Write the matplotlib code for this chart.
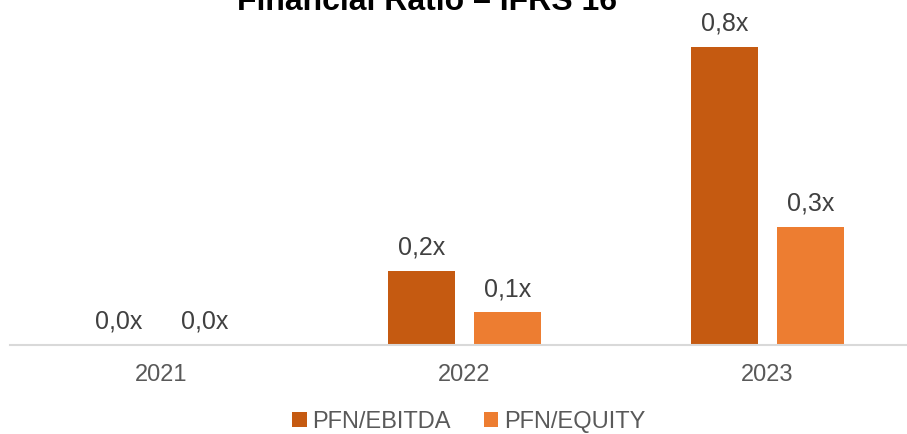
import numpy as np
import matplotlib.pyplot as plt

years = ["2021", "2022", "2023"]
pfn_ebitda = [0.0, 0.2, 0.8]
pfn_equity = [0.0, 0.088, 0.317]
ebitda_labels = ["0,0x", "0,2x", "0,8x"]
equity_labels = ["0,0x", "0,1x", "0,3x"]

plt.rcParams['font.family'] = ['Liberation Sans', 'DejaVu Sans']

fig = plt.figure(figsize=(9.07, 4.34), dpi=100)
ax = fig.add_axes([10 / 907, 89 / 434, 909 / 907, 298 / 434])

x = np.arange(len(years))
w = 0.22
off = 0.142
b1 = ax.bar(x - off, pfn_ebitda, w, color='#C55A11', label='PFN/EBITDA')
b2 = ax.bar(x + off, pfn_equity, w, color='#ED7D31', label='PFN/EQUITY')

# data labels above each bar
for bars, labels in [(b1, ebitda_labels), (b2, equity_labels)]:
    for bar, lab in zip(bars, labels):
        ax.annotate(lab, (bar.get_x() + bar.get_width() / 2, bar.get_height()),
                    xytext=(0, 8), textcoords='offset points', ha='center', va='bottom',
                    fontsize=18, color='#404040', annotation_clip=False)

ax.set_xlim(-0.5, 2.5)
ax.set_ylim(0, 0.8)
ax.set_xticks(x)
ax.set_xticklabels(years, fontsize=17, color='#595959')
ax.tick_params(axis='x', length=0, pad=14)
ax.set_yticks([])
for s in ['top', 'right', 'left']:
    ax.spines[s].set_visible(False)
ax.spines['bottom'].set_color('#D9D9D9')
ax.spines['bottom'].set_linewidth(1.5)

fig.text(427 / 907, 1 - 10 / 434, "Financial Ratio – IFRS 16", ha='center', va='baseline',
         fontsize=23, fontweight='bold', color='black')

fig.legend(handles=[b1, b2], loc='center', bbox_to_anchor=(469 / 907, 12 / 434), ncol=2,
           frameon=False, fontsize=17, labelcolor='#595959', handlelength=0.6, handleheight=0.6,
           handletextpad=0.25, columnspacing=1.4, borderpad=0.1)

fig.savefig('out.png', dpi=100)
